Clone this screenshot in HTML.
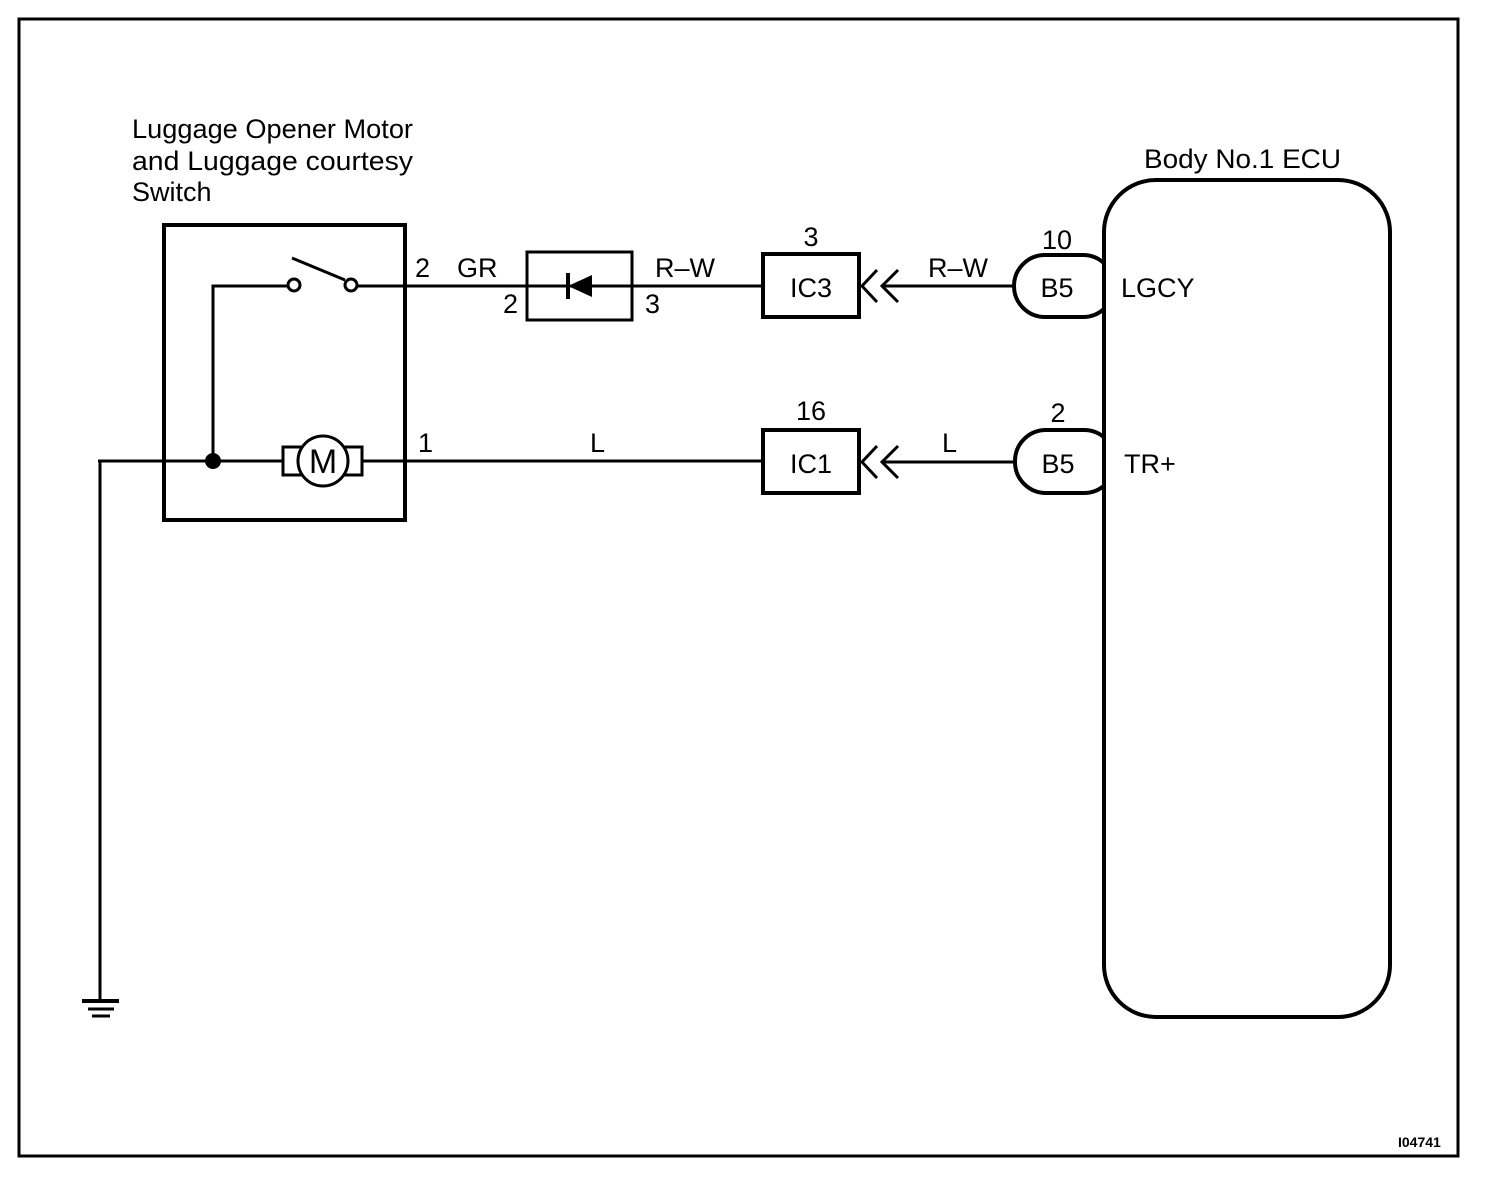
<!DOCTYPE html>
<html><head><style>
html,body{margin:0;padding:0;background:#fff;}
svg{display:block;}
text{font-family:"Liberation Sans",sans-serif;fill:#000;}
</style></head><body>
<svg width="1504" height="1182" viewBox="0 0 1504 1182" xmlns="http://www.w3.org/2000/svg">
<rect x="19" y="19" width="1439" height="1137" fill="none" stroke="#000" stroke-width="3"/>
<g font-size="27">
<text x="132" y="138" textLength="281" lengthAdjust="spacingAndGlyphs">Luggage Opener Motor</text>
<text x="132" y="170" textLength="281" lengthAdjust="spacingAndGlyphs">and Luggage courtesy</text>
<text x="132" y="201">Switch</text>
<text x="1144" y="168" textLength="197" lengthAdjust="spacingAndGlyphs">Body No.1 ECU</text>
</g>
<g fill="none" stroke="#000">
<rect x="164" y="225" width="241" height="295" stroke-width="4"/>
<!-- top wire -->
<polyline points="213,461 213,286 288,286" stroke-width="3"/>
<line x1="357" y1="286" x2="527" y2="286" stroke-width="3"/>
<circle cx="294" cy="285" r="6" stroke-width="3"/>
<circle cx="351" cy="285" r="6" stroke-width="3"/>
<line x1="292" y1="258" x2="345" y2="280" stroke-width="3"/>
<rect x="527" y="252" width="105" height="68" stroke-width="3"/>
<line x1="527" y1="286" x2="632" y2="286" stroke-width="3"/>
<line x1="568" y1="273" x2="568" y2="299" stroke-width="4"/>
<line x1="632" y1="286" x2="763" y2="286" stroke-width="3"/>
<rect x="763" y="254" width="96" height="63" stroke-width="4"/>
<polyline points="877,270 862,286 877,302" stroke-width="3"/>
<polyline points="898,270 882,286 898,302" stroke-width="3"/>
<line x1="882" y1="286" x2="1014" y2="286" stroke-width="3"/>
<rect x="1014" y="255" width="100" height="62" rx="31" stroke-width="4"/>
<!-- bottom wire -->
<line x1="98" y1="461" x2="283" y2="461" stroke-width="3"/>
<line x1="100" y1="461" x2="100" y2="1001" stroke-width="3"/>
<line x1="82" y1="1001" x2="119" y2="1001" stroke-width="4"/>
<line x1="88" y1="1009" x2="114" y2="1009" stroke-width="3"/>
<line x1="92" y1="1016" x2="110" y2="1016" stroke-width="3"/>
<rect x="283" y="447" width="79" height="28" stroke-width="3"/>
<circle cx="323" cy="461" r="25" fill="#fff" stroke-width="3"/>
<line x1="362" y1="461" x2="763" y2="461" stroke-width="3"/>
<rect x="763" y="430" width="96" height="63" stroke-width="4"/>
<polyline points="877,446 862,462 877,478" stroke-width="3"/>
<polyline points="898,446 882,462 898,478" stroke-width="3"/>
<line x1="882" y1="462" x2="1015" y2="462" stroke-width="3"/>
<rect x="1015" y="430" width="100" height="63" rx="31" stroke-width="4"/>
<rect x="1104" y="180" width="286" height="837" rx="52" fill="#fff" stroke-width="4"/>
</g>
<circle cx="213" cy="461" r="8" fill="#000"/>
<polygon points="568,286 592,275 592,297" fill="#000"/>
<rect x="287" y="451" width="8" height="20" fill="#fff"/>
<rect x="350" y="451" width="8" height="20" fill="#fff"/>
<g font-size="27">
<text x="323" y="473" text-anchor="middle" font-size="34">M</text>
<text x="415" y="277">2</text>
<text x="457" y="277">GR</text>
<text x="503" y="313">2</text>
<text x="645" y="313">3</text>
<text x="655" y="277">R–W</text>
<text x="811" y="246" text-anchor="middle">3</text>
<text x="811" y="297" text-anchor="middle">IC3</text>
<text x="928" y="277">R–W</text>
<text x="1057" y="249" text-anchor="middle">10</text>
<text x="1057" y="297" text-anchor="middle">B5</text>
<text x="1121" y="297">LGCY</text>
<text x="418" y="452">1</text>
<text x="590" y="452">L</text>
<text x="811" y="420" text-anchor="middle">16</text>
<text x="811" y="473" text-anchor="middle">IC1</text>
<text x="942" y="452">L</text>
<text x="1058" y="422" text-anchor="middle">2</text>
<text x="1058" y="473" text-anchor="middle">B5</text>
<text x="1124" y="473">TR+</text>
</g>
<text x="1398" y="1147" font-size="14" font-weight="bold">I04741</text>
</svg>
</body></html>
